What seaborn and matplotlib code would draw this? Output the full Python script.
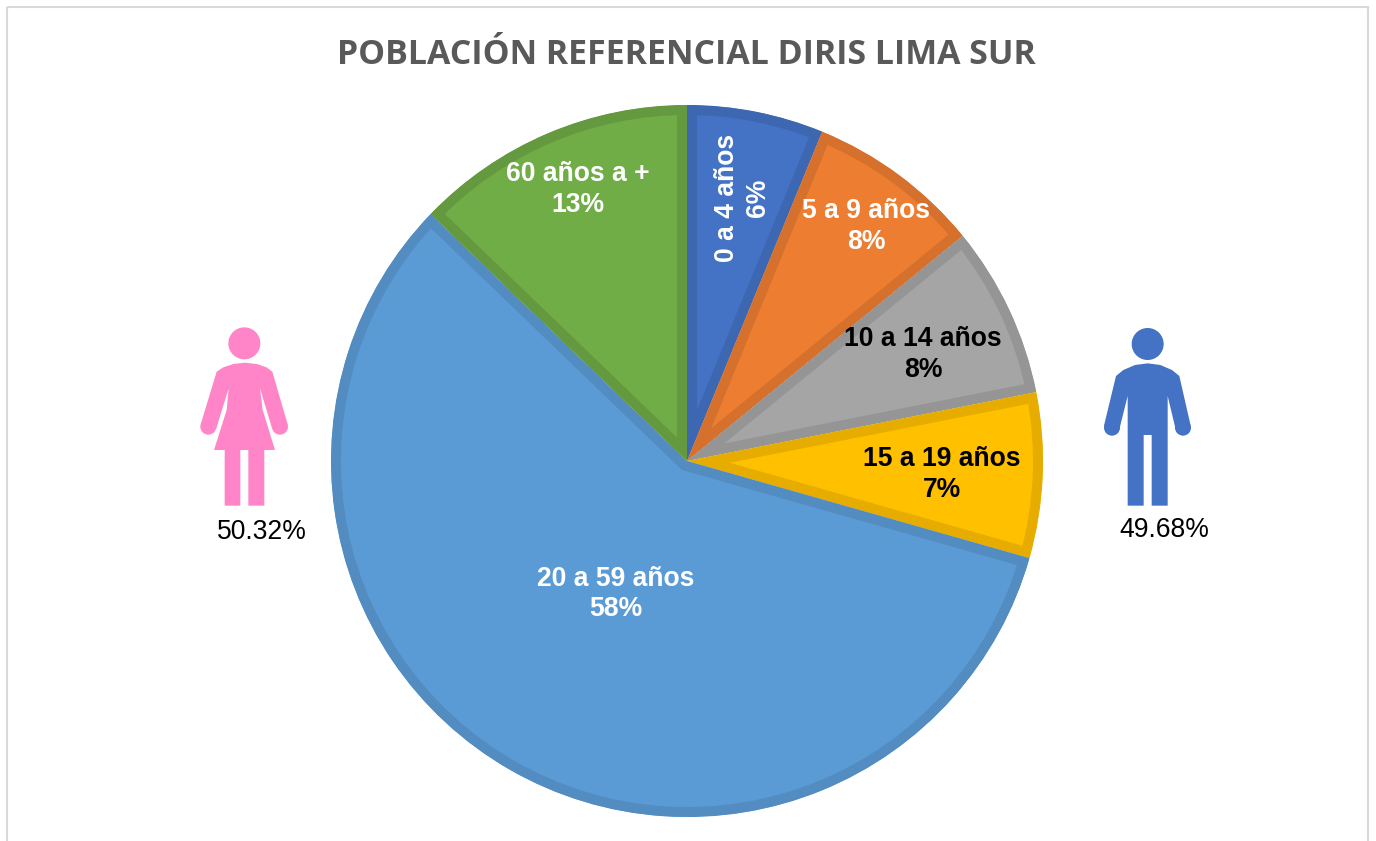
import matplotlib
matplotlib.use('Agg')
import matplotlib.pyplot as plt
import seaborn as sns
from matplotlib.patches import Circle, Polygon, Rectangle

categories = ['0 a 4 años', '5 a 9 años', '10 a 14 años', '15 a 19 años', '20 a 59 años', '60 años a +']
shares = [6.2, 7.9, 7.8, 7.5, 57.8, 12.8]
share_labels = ['6%', '8%', '8%', '7%', '58%', '13%']
fills = ['#4472C4', '#ED7D31', '#A5A5A5', '#FFC000', '#5B9BD5', '#70AD47']
edges = ['#3E67B1', '#D5712C', '#959595', '#E6AD00', '#528CC0', '#65993F']
label_colors = ['white', 'white', 'black', 'black', 'white', 'white']
label_pos = [(743, 198), (866, 226), (923, 354), (942, 474), (616, 594), (578, 189)]
label_rot = [90, 0, 0, 0, 0, 0]
title = 'POBLACIÓN REFERENCIAL DIRIS LIMA SUR'
female_share = '50.32%'
male_share = '49.68%'

W, H = 1376, 841
sns.set_theme(style='white')
plt.rcParams['font.family'] = ['Liberation Sans', 'DejaVu Sans']

fig = plt.figure(figsize=(W / 100, H / 100), dpi=100, facecolor='white')

# overlay in pixel coords for frame, icons and labels
px = fig.add_axes([0, 0, 1, 1], zorder=3)
px.set_xlim(0, W)
px.set_ylim(H, 0)
px.axis('off')
px.patch.set_alpha(0)

cx, cy, r = 687, 461, 356
ax = fig.add_axes([(cx - r) / W, 1 - (cy + r) / H, 2 * r / W, 2 * r / H], zorder=2)
wedges, _ = ax.pie(shares, colors=sns.color_palette(fills), startangle=90,
                   counterclock=False, radius=1,
                   wedgeprops={'linewidth': 14.4, 'joinstyle': 'miter'})
ax.set_xlim(-1, 1)
ax.set_ylim(-1, 1)
# stroke stays inside each slice, like the excel border
for w, e in zip(wedges, edges):
    w.set_edgecolor(e)
    w.set_clip_on(True)
    w.set_clip_box(None)
    w.set_clip_path(w.get_path(), w.get_transform())

px.add_patch(Rectangle((7, 7), 1361, 900, fill=False, edgecolor='#D9D9D9', linewidth=1.5))

px.text(686, 55, title, ha='center', va='center', fontsize=24.4, fontweight='bold',
        family='Open Sans', color='#595959')

for cat, lab, col, pos, rot in zip(categories, share_labels, label_colors, label_pos, label_rot):
    px.text(pos[0], pos[1], cat + '\n' + lab, ha='center', va='center', color=col, rotation=rot,
            fontsize=19.1, fontweight='bold', linespacing=1.25, multialignment='center')


def draw_figure(offset, color, head, head_r, outline, hands, hand_r):
    conv = lambda p: (offset[0] + p[0] / 3, offset[1] + p[1] / 3)
    px.add_patch(Circle(conv(head), head_r / 3, color=color, lw=0))
    px.add_patch(Polygon([conv(p) for p in outline], closed=True, color=color, lw=0))
    for h in hands:
        px.add_patch(Circle(conv(h), hand_r / 3, color=color, lw=0))


draw_figure((180, 310), '#FF85C8', (193, 100), 48,
            [(110, 185), (130, 172), (160, 162), (195, 158), (230, 162), (260, 172), (277, 185),
             (323, 343), (277, 358),
             (240, 235), (248, 300), (285, 420), (253, 420), (253, 587), (205, 587), (205, 420),
             (181, 420), (181, 587), (134, 587), (134, 420), (102, 420), (140, 300), (146, 235),
             (108, 358), (62, 343)],
            [(85, 350), (300, 350)], 24)
draw_figure((1090, 310), '#4472C4', (173, 102), 48,
            [(78, 198), (100, 180), (135, 165), (173, 160), (211, 165), (246, 180), (268, 198),
             (302, 347), (257, 358),
             (233, 258), (233, 587), (185, 587), (185, 375), (161, 375), (161, 587), (113, 587),
             (113, 258), (88, 358), (42, 347)],
            [(66, 353), (279, 353)], 24)

px.text(262, 532, female_share, ha='center', va='center', fontsize=19.1, color='black')
px.text(1164.5, 530, male_share, ha='center', va='center', fontsize=19.1, color='black')

fig.savefig('out.png', dpi=100)
plt.close()
